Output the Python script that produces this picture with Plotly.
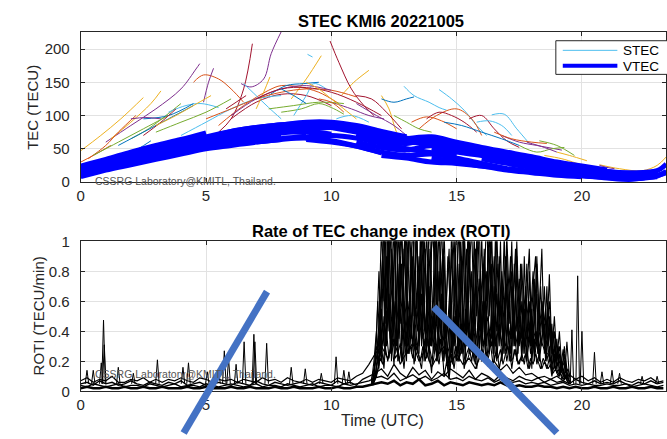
import plotly.graph_objects as go

# ---------------- data ----------------
# STEC arcs (hours UTC, TECU)
STEC_T = [
    [0, 0.8, 1.6, 2.5],
    [1.0, 2.0, 3.0, 4.0, 4.6, 4.75],
    [1.2, 2.0, 2.8, 3.2],
    [0.3, 1.0, 1.5, 2.2],
    [2.0, 2.7, 3.4, 4.0],
    [3.5, 4.2, 4.8, 5.5],
    [4.5, 4.9, 5.5, 6.0, 6.5],
    [4.9, 5.1, 5.3],
    [5.5, 6.0, 6.5, 6.85],
    [6.4, 6.8, 7.3, 7.6, 8.0],
    [5.5, 6.5, 7.5, 8.0, 8.7, 9.5, 10.3],
    [6.0, 7.0, 8.0, 9.0, 10.0],
    [6.5, 7.0, 7.5, 8.0],
    [7.0, 7.3, 7.55],
    [8.0, 8.8, 9.5, 10.0, 10.5],
    [8.4, 9.0, 9.6],
    [9.05, 9.25],
    [7.5, 8.2, 8.9, 9.5],
    [8.5, 9.0, 9.3, 9.8],
    [9.95, 10.3, 10.8, 11.3, 11.7],
    [10.4, 10.9, 11.5],
    [10.0, 10.8, 11.5, 12.1],
    [12.0, 12.3, 12.6, 12.9],
    [12.9, 13.3, 13.9, 14.3, 14.6],
    [14.3, 14.8, 15.3, 15.8, 16.2],
    [16.4, 16.9, 17.4, 17.9],
    [13.5, 14.2, 15.0, 15.6, 16.0],
    [15.5, 16.0, 16.5, 17.0, 17.5],
    [16.8, 17.5, 18.2, 19.2],
    [17.5, 18.2, 18.8, 19.3],
    [18.5, 19.2, 19.8],
    [20.7, 21.5, 22.4, 23.0, 23.37],
    [20.7, 21.0, 21.3],
    [0.0, 0.5, 1.2],
    [2.5, 3.5, 4.5],
    [3.0, 4.0, 5.0, 6.0],
    [2.0, 2.6, 3.2],
    [11.0, 11.6, 12.2, 12.8],
    [12.0, 12.5, 13.0, 13.3],
    [10.2, 10.8, 11.5],
    [17.8, 18.5, 19.0],
    [13.2, 13.8, 14.4, 15.0],
    [0.5, 1.5, 2.5, 3.5],
    [1.5, 2.5, 3.5, 4.5],
    [2.5, 3.2, 3.8],
    [3.0, 3.8, 4.5, 5.2],
    [4.0, 5.0, 6.0, 7.0, 8.0],
    [5.0, 6.0, 7.0, 8.0, 9.0, 10.0, 11.0],
    [6.0, 7.0, 8.0, 9.0, 10.0],
    [7.0, 8.0, 9.0, 10.0, 11.0, 12.0],
    [7.5, 8.5, 9.5, 10.5],
    [8.0, 8.5, 9.0],
    [9.0, 9.5, 10.0, 10.5, 11.0],
    [9.5, 10.0, 10.5],
    [11.0, 11.8, 12.5, 13.0],
    [12.5, 13.0, 13.5, 14.0],
    [13.8, 14.3, 14.8, 15.3, 15.8],
    [14.5, 15.2, 16.0, 16.8, 17.5],
    [15.8, 16.3, 16.8, 17.2],
    [16.5, 17.2, 18.0, 18.6],
    [18.3, 19.0, 19.7],
    [19.0, 19.5, 20.2],
    [5.8, 6.2, 6.6],
    [1.8, 2.3, 2.8],
]
STEC_V = [
    [47, 70, 95, 127],
    [60, 85, 110, 140, 170, 178],
    [65, 90, 118, 137],
    [35, 55, 75, 100],
    [65, 80, 100, 118],
    [105, 115, 118, 112],
    [150, 161, 155, 140, 120],
    [120, 150, 171],
    [75, 95, 140, 208],
    [148, 143, 155, 193, 226],
    [85, 115, 138, 145, 143, 135, 118],
    [95, 120, 132, 130, 115],
    [148, 130, 112, 95],
    [110, 135, 158],
    [105, 110, 118, 112, 102],
    [125, 155, 190],
    [192, 188],
    [130, 145, 148, 150],
    [100, 130, 148, 140],
    [212, 180, 140, 115, 100],
    [130, 150, 168],
    [120, 110, 100, 95],
    [130, 110, 75, 55],
    [144, 130, 120, 112, 108],
    [139, 125, 108, 85, 70],
    [101, 102, 80, 58],
    [80, 100, 110, 95, 70],
    [95, 100, 80, 62, 52],
    [70, 60, 55, 48],
    [55, 45, 50, 52],
    [40, 35, 28],
    [26, 20, 17, 25, 38],
    [25, 22, 20],
    [30, 40, 55],
    [95, 100, 118],
    [75, 90, 105, 125],
    [95, 97, 95],
    [130, 125, 105, 80],
    [125, 120, 125, 128],
    [95, 100, 90],
    [60, 52, 45],
    [90, 98, 92, 80],
    [40, 60, 80, 100],
    [55, 75, 95, 115],
    [70, 90, 110],
    [85, 100, 115, 130],
    [70, 90, 110, 125, 130],
    [95, 110, 125, 135, 140, 138, 128],
    [100, 125, 140, 145, 138],
    [125, 140, 142, 135, 120, 100],
    [110, 115, 120, 118],
    [140, 130, 118],
    [150, 140, 125, 110, 95],
    [125, 120, 105],
    [118, 100, 85, 70],
    [100, 90, 80, 75],
    [95, 105, 100, 90, 75],
    [90, 85, 75, 65, 55],
    [90, 92, 85, 70],
    [75, 65, 60, 58],
    [62, 55, 40],
    [45, 40, 32],
    [110, 120, 130],
    [40, 50, 62],
]
STEC_COLOR_IDX = [2, 3, 2, 1, 4, 5, 1, 3, 6, 3, 1, 6, 5, 2, 4, 2, 5, 0, 5, 6,
                  2, 3, 2, 5, 5, 5, 1, 6, 3, 4, 2, 2, 3, 1, 0, 4, 3, 6, 0, 5, 3, 1,
                  4, 0, 6, 2, 5, 1, 3, 6, 4, 0, 2, 1, 3, 4, 6, 0, 5, 1, 4, 2, 6, 0]

# VTEC arcs (hours UTC, TECU)
VTEC_T = [
    [0, 1, 2, 3, 4, 5, 6, 7, 8],
    [0, 1, 2, 3, 4, 5, 6, 7, 8],
    [0, 1, 2, 3, 4, 5, 6, 7, 8, 9],
    [0, 1, 2, 3, 4, 5, 6],
    [0, 1, 2, 3, 4, 5],
    [3, 4, 5, 6, 7, 8, 9, 10, 11],
    [4, 5, 6, 7, 8, 9, 10, 11, 12],
    [5, 6, 7, 8, 9, 10, 11, 12, 13],
    [6, 7, 8, 9, 10, 11, 12, 13, 14],
    [8, 9, 10, 11, 12, 13, 14, 15],
    [9, 10, 11, 12, 13, 14, 15, 16, 17],
    [10, 11, 12, 13, 14, 15, 16, 17, 18],
    [11, 12, 13, 14, 15, 16, 17, 18, 19],
    [12, 13, 14, 15, 16, 17, 18, 19, 20],
    [13, 14, 15, 16, 17, 18, 19, 20, 21],
    [14, 15, 16, 17, 18, 19, 20, 21, 22],
    [16, 17, 18, 19, 20, 21, 22, 23],
    [17, 18, 19, 20, 21, 22, 23],
    [18, 19, 20, 21, 22, 23],
    [19, 20, 21, 22, 23, 23.37],
    [15, 16, 17, 18, 19, 20, 21],
    [7, 8, 9, 10, 11, 12],
    [1, 2, 3, 4, 5, 6, 7, 8],
    [20, 21, 22, 23, 23.37],
    [2, 3, 4, 5, 6, 7, 8, 9, 10],
    [9, 10, 11, 12, 13, 14, 15, 16],
    [11, 12, 13, 14, 15, 16, 17, 18, 19, 20],
    [14, 15, 16, 17, 18, 19, 20, 21, 22, 23, 23.37],
    [0, 1, 2, 3, 4],
    [4, 5, 6, 7, 8, 9, 10, 11],
]
VTEC_V = [
    [8, 18, 26, 34, 42, 50, 55, 60, 64],
    [12, 22, 31, 39, 47, 55, 60, 66, 70],
    [16, 26, 36, 44, 52, 60, 66, 72, 76, 74],
    [20, 30, 40, 50, 58, 66, 72],
    [24, 34, 45, 55, 64, 74],
    [45, 55, 64, 72, 78, 84, 88, 84, 78],
    [50, 62, 70, 76, 82, 86, 86, 80, 70],
    [65, 76, 82, 86, 90, 90, 85, 76, 68],
    [70, 75, 78, 80, 82, 80, 74, 66, 64],
    [66, 68, 70, 66, 58, 50, 44, 40],
    [64, 60, 54, 45, 40, 42, 36, 28, 20],
    [82, 75, 68, 62, 62, 56, 48, 40, 32],
    [60, 52, 48, 55, 50, 44, 38, 30, 24],
    [40, 36, 30, 28, 24, 18, 14, 10, 8],
    [65, 68, 60, 52, 45, 38, 30, 24, 18],
    [50, 45, 40, 34, 28, 22, 16, 12, 10],
    [35, 28, 22, 18, 12, 8, 6, 8],
    [42, 36, 28, 22, 16, 12, 16],
    [20, 14, 10, 6, 4, 10],
    [28, 22, 16, 14, 17, 27],
    [58, 50, 42, 34, 26, 20, 15],
    [60, 64, 66, 62, 54, 44],
    [30, 38, 45, 52, 58, 64, 70, 80],
    [10, 7, 5, 9, 16],
    [28, 38, 48, 58, 64, 70, 74, 76, 72],
    [88, 84, 76, 66, 60, 58, 52, 46],
    [72, 62, 58, 66, 58, 50, 42, 34, 26, 20],
    [36, 30, 24, 20, 16, 12, 9, 7, 6, 10, 14],
    [14, 24, 34, 42, 50],
    [58, 68, 76, 82, 86, 88, 84, 76],
]

# ROTI background series, one value every 0.25 h from 0 UTC
ROTI_BASE_STEP = 0.25
ROTI_B1 = [0.02, 0.03, 0.02, 0.02, 0.03, 0.02, 0.02, 0.03, 0.02, 0.02, 0.03, 0.02,
           0.02, 0.03, 0.02, 0.02, 0.02, 0.03, 0.02, 0.02, 0.03, 0.02, 0.02, 0.02,
           0.03, 0.02, 0.02, 0.03, 0.02, 0.02, 0.02, 0.03, 0.02, 0.02, 0.03, 0.02,
           0.02, 0.02, 0.03, 0.02, 0.02, 0.03, 0.02, 0.02, 0.03, 0.03, 0.04, 0.05,
           0.06, 0.05, 0.07, 0.04, 0.06, 0.05, 0.08, 0.04, 0.05, 0.07, 0.04, 0.06,
           0.05, 0.04, 0.06, 0.05, 0.04, 0.05, 0.04, 0.06, 0.04, 0.03, 0.04, 0.03,
           0.03, 0.04, 0.03, 0.03, 0.02, 0.03, 0.02, 0.03, 0.02, 0.02, 0.03, 0.02,
           0.02, 0.03, 0.02, 0.02, 0.03, 0.02, 0.02, 0.03, 0.02, 0.02]
ROTI_B2 = [0.05, 0.06, 0.04, 0.07, 0.05, 0.06, 0.04, 0.05, 0.07, 0.05, 0.04, 0.06,
           0.05, 0.04, 0.06, 0.05, 0.07, 0.04, 0.05, 0.06, 0.04, 0.05, 0.06, 0.05,
           0.04, 0.06, 0.05, 0.04, 0.07, 0.05, 0.04, 0.06, 0.05, 0.04, 0.05, 0.06,
           0.05, 0.04, 0.06, 0.05, 0.04, 0.07, 0.05, 0.06, 0.04, 0.08, 0.10, 0.12,
           0.15, 0.10, 0.18, 0.12, 0.09, 0.16, 0.11, 0.14, 0.08, 0.13, 0.10, 0.15,
           0.12, 0.09, 0.14, 0.08, 0.12, 0.10, 0.07, 0.11, 0.09, 0.07, 0.10, 0.08,
           0.07, 0.09, 0.06, 0.08, 0.06, 0.07, 0.05, 0.08, 0.06, 0.05, 0.07, 0.05,
           0.06, 0.05, 0.07, 0.05, 0.04, 0.06, 0.05, 0.07, 0.05, 0.06]
ROTI_B3 = [0.07, 0.09, 0.06, 0.08, 0.07, 0.10, 0.06, 0.06, 0.08, 0.07, 0.09, 0.06,
           0.08, 0.06, 0.08, 0.07, 0.09, 0.07, 0.06, 0.09, 0.08, 0.06, 0.08, 0.07,
           0.08, 0.06, 0.08, 0.07, 0.06, 0.09, 0.07, 0.08, 0.06, 0.09, 0.07, 0.06,
           0.08, 0.06, 0.08, 0.07, 0.06, 0.09, 0.08, 0.07, 0.10, 0.12, 0.18, 0.25,
           0.30, 0.22, 0.35, 0.18, 0.26, 0.32, 0.20, 0.28, 0.16, 0.24, 0.30, 0.19,
           0.25, 0.18, 0.22, 0.15, 0.26, 0.17, 0.20, 0.14, 0.18, 0.12, 0.16, 0.11,
           0.12, 0.09, 0.10, 0.08, 0.10, 0.07, 0.11, 0.08, 0.10, 0.07, 0.09, 0.06,
           0.08, 0.06, 0.09, 0.07, 0.06, 0.08, 0.07, 0.09, 0.06, 0.07]
ROTI_B4 = [0.04, 0.03, 0.05, 0.04, 0.03, 0.04, 0.05, 0.03, 0.04, 0.04, 0.03, 0.05,
           0.04, 0.03, 0.04, 0.05, 0.03, 0.04, 0.04, 0.03, 0.05, 0.04, 0.03, 0.04,
           0.05, 0.04, 0.03, 0.04, 0.05, 0.03, 0.04, 0.04, 0.03, 0.05, 0.04, 0.03,
           0.04, 0.05, 0.03, 0.04, 0.04, 0.03, 0.05, 0.04, 0.05, 0.06, 0.07, 0.09,
           0.10, 0.08, 0.12, 0.07, 0.09, 0.11, 0.08, 0.10, 0.07, 0.09, 0.12, 0.08,
           0.09, 0.07, 0.10, 0.08, 0.07, 0.09, 0.06, 0.08, 0.07, 0.06, 0.07, 0.05,
           0.06, 0.05, 0.06, 0.04, 0.05, 0.06, 0.04, 0.05, 0.04, 0.05, 0.04, 0.04,
           0.05, 0.04, 0.04, 0.05, 0.03, 0.04, 0.05, 0.04, 0.03, 0.04]

# ROTI disturbed-period series, one value every 0.1 h
ROTI_STORM_STEP = 0.1
ROTI_STORM_START_A = 11.6
ROTI_STORM_START_B = 11.65
ROTI_S1 = [0.08, 0.15, 0.22, 0.45, 1.10, 0.60, 1.20, 0.40, 0.95, 0.30,
           1.15, 0.50, 0.85, 0.25, 1.10, 0.70, 0.35, 1.20, 0.55, 0.90,
           0.30, 1.05, 0.65, 0.20, 0.95, 1.15, 0.45, 0.80, 0.30, 1.10,
           0.35, 0.15, 0.60, 1.05, 0.40, 0.85, 0.25, 1.10, 0.55, 0.90,
           0.30, 1.05, 0.50, 0.75, 0.20, 0.95, 0.60, 1.10, 0.35, 0.70,
           0.25, 0.90, 0.45, 1.05, 0.30, 0.65, 0.20, 0.85, 0.40, 0.55,
           0.20, 0.90, 0.35, 0.60, 0.15, 0.75, 0.30, 0.55, 0.95, 0.25,
           0.70, 0.20, 0.45, 0.15, 0.35, 0.10, 0.20, 0.08, 0.33, 0.10]
ROTI_S2 = [0.05, 0.10, 0.30, 0.25, 0.70, 1.15, 0.35, 0.80, 1.10, 0.45,
           0.60, 1.10, 0.30, 0.95, 0.55, 1.20, 0.40, 0.75, 1.05, 0.25,
           0.85, 0.40, 1.10, 0.55, 0.30, 0.70, 1.00, 0.25, 0.60, 0.90,
           0.20, 0.45, 0.95, 0.30, 0.70, 1.10, 0.35, 0.60, 0.95, 0.25,
           0.80, 0.40, 1.00, 0.25, 0.65, 0.90, 0.30, 0.55, 1.05, 0.40,
           0.65, 0.30, 0.80, 0.55, 0.95, 0.20, 0.70, 0.45, 0.90, 0.30,
           0.60, 0.25, 0.85, 0.40, 0.55, 0.20, 0.90, 0.45, 0.30, 0.70,
           0.35, 0.78, 0.25, 0.40, 0.15, 0.25, 0.12, 0.30, 0.10, 0.06]
ROTI_S3 = [0.06, 0.20, 0.40, 0.15, 0.55, 0.30, 0.90, 0.50, 0.65, 1.10,
           0.35, 0.75, 1.15, 0.45, 0.60, 0.25, 0.95, 0.50, 1.10, 0.40,
           0.65, 0.20, 0.50, 0.95, 0.40, 0.25, 0.60, 1.10, 0.45, 0.20,
           0.65, 0.95, 0.25, 0.50, 0.20, 0.55, 0.90, 0.30, 0.45, 1.05,
           0.45, 0.20, 0.70, 0.45, 1.05, 0.35, 0.80, 0.25, 0.60, 0.90,
           0.40, 0.60, 0.20, 0.35, 0.70, 0.45, 1.00, 0.30, 0.55, 0.75,
           0.35, 0.55, 0.20, 0.80, 0.30, 0.45, 0.65, 0.20, 0.50, 0.35,
           0.25, 0.50, 0.15, 0.30, 0.20, 0.40, 0.15, 0.25, 0.08, 0.12]
ROTI_S4 = [0.04, 0.08, 0.12, 0.35, 0.20, 0.50, 0.30, 0.65, 0.25, 0.55,
           0.30, 0.45, 0.20, 0.60, 0.35, 0.50, 0.25, 0.40, 0.65, 0.30,
           0.50, 0.25, 0.40, 0.70, 0.30, 0.55, 0.20, 0.45, 0.65, 0.35,
           0.25, 0.10, 0.40, 0.30, 0.55, 0.20, 0.45, 0.35, 0.60, 0.25,
           0.35, 0.55, 0.25, 0.45, 0.30, 0.60, 0.20, 0.40, 0.30, 0.50,
           0.20, 0.45, 0.30, 0.60, 0.25, 0.40, 0.35, 0.50, 0.20, 0.40,
           0.30, 0.45, 0.20, 0.35, 0.50, 0.25, 0.40, 0.20, 0.35, 0.45,
           0.20, 0.30, 0.12, 0.25, 0.15, 0.10, 0.20, 0.08, 0.12, 0.06]
ROTI_S5 = [0.05, 0.06, 0.10, 0.18, 0.30, 0.15, 0.40, 0.22, 0.35, 0.18,
           0.40, 0.20, 0.30, 0.15, 0.35, 0.25, 0.45, 0.18, 0.30, 0.22,
           0.15, 0.35, 0.22, 0.30, 0.12, 0.40, 0.25, 0.18, 0.35, 0.10,
           0.20, 0.08, 0.25, 0.15, 0.30, 0.20, 0.35, 0.15, 0.25, 0.30,
           0.20, 0.32, 0.15, 0.28, 0.20, 0.35, 0.18, 0.25, 0.40, 0.20,
           0.30, 0.15, 0.25, 0.35, 0.20, 0.30, 0.15, 0.28, 0.22, 0.18,
           0.25, 0.18, 0.30, 0.15, 0.22, 0.35, 0.18, 0.25, 0.15, 0.20,
           0.15, 0.22, 0.10, 0.18, 0.12, 0.15, 0.08, 0.12, 0.07, 0.05]
ROTI_S6 = [0.05, 0.12, 0.35, 0.80, 0.25, 1.20, 0.55, 1.10, 0.20, 0.85,
           1.20, 0.35, 1.10, 0.60, 0.20, 1.15, 0.80, 0.30, 1.20, 0.45,
           1.10, 0.55, 0.25, 1.20, 0.70, 0.35, 1.05, 0.60, 1.15, 0.40,
           0.20, 0.30, 1.10, 0.60, 1.20, 0.25, 0.75, 1.15, 0.30, 0.80,
           1.10, 0.45, 0.85, 1.15, 0.35, 0.70, 1.20, 0.50, 0.85, 0.25,
           1.10, 0.50, 0.75, 0.25, 1.05, 0.60, 0.80, 0.35, 1.00, 0.45,
           0.85, 0.40, 0.65, 0.95, 0.30, 0.50, 0.85, 0.40, 0.60, 0.30,
           0.45, 0.60, 0.25, 0.50, 0.20, 0.30, 0.15, 0.20, 0.10, 0.08]
ROTI_S7 = [0.05, 0.18, 0.60, 0.30, 0.95, 0.45, 1.15, 0.25, 0.70, 1.05,
           0.20, 0.90, 0.55, 1.20, 0.30, 0.80, 1.10, 0.45, 0.25, 1.05,
           0.50, 0.95, 0.30, 0.75, 1.20, 0.40, 0.20, 0.90, 0.65, 0.35,
           0.90, 0.55, 0.20, 0.80, 0.35, 1.00, 0.50, 0.20, 1.10, 0.60,
           0.25, 0.85, 1.10, 0.40, 0.60, 0.25, 0.95, 0.70, 0.30, 1.05,
           0.45, 1.00, 0.25, 0.70, 0.50, 0.90, 0.30, 0.65, 0.25, 0.85,
           0.45, 0.70, 0.30, 0.50, 0.80, 0.35, 0.25, 0.70, 0.40, 0.55,
           0.30, 0.45, 0.20, 0.35, 0.25, 0.15, 0.28, 0.12, 0.15, 0.06]
ROTI_S8 = [0.04, 0.10, 0.25, 0.55, 0.90, 0.30, 0.75, 1.15, 0.50, 0.25,
           0.85, 0.45, 0.70, 1.10, 0.35, 0.60, 0.90, 0.20, 0.80, 0.55,
           1.15, 0.30, 0.85, 0.40, 0.60, 1.10, 0.30, 0.55, 0.95, 0.25,
           0.45, 0.75, 0.35, 0.95, 0.25, 0.65, 1.15, 0.40, 0.70, 0.30,
           0.60, 0.95, 0.30, 0.55, 0.85, 0.40, 0.65, 1.00, 0.25, 0.55,
           0.85, 0.35, 0.60, 0.90, 0.40, 0.25, 0.60, 0.95, 0.35, 0.50,
           0.25, 0.65, 0.50, 0.30, 0.70, 0.90, 0.30, 0.45, 0.60, 0.20,
           0.55, 0.30, 0.40, 0.20, 0.30, 0.18, 0.10, 0.22, 0.08, 0.05]
ROTI_S9 = [0.06, 0.12, 0.20, 0.28, 0.45, 0.25, 0.55, 0.35, 0.45, 0.60,
           0.35, 0.55, 0.40, 0.30, 0.60, 0.45, 0.30, 0.55, 0.40, 0.65,
           0.35, 0.45, 0.60, 0.30, 0.50, 0.35, 0.55, 0.40, 0.30, 0.50,
           0.40, 0.25, 0.35, 0.50, 0.30, 0.45, 0.25, 0.55, 0.40, 0.35,
           0.50, 0.30, 0.45, 0.55, 0.30, 0.40, 0.50, 0.35, 0.45, 0.30,
           0.40, 0.55, 0.35, 0.30, 0.45, 0.35, 0.50, 0.30, 0.40, 0.35,
           0.40, 0.30, 0.45, 0.25, 0.35, 0.40, 0.25, 0.35, 0.30, 0.25,
           0.25, 0.20, 0.28, 0.15, 0.20, 0.12, 0.15, 0.10, 0.08, 0.06]
ROTI_S10 = [0.04, 0.08, 0.14, 0.22, 0.18, 0.30, 0.20, 0.28, 0.35, 0.22,
            0.25, 0.32, 0.20, 0.38, 0.25, 0.30, 0.22, 0.35, 0.28, 0.20,
            0.30, 0.20, 0.35, 0.25, 0.18, 0.30, 0.22, 0.35, 0.20, 0.28,
            0.15, 0.25, 0.18, 0.30, 0.20, 0.25, 0.30, 0.18, 0.22, 0.28,
            0.25, 0.18, 0.30, 0.22, 0.28, 0.20, 0.25, 0.32, 0.18, 0.25,
            0.22, 0.28, 0.18, 0.25, 0.30, 0.20, 0.22, 0.28, 0.18, 0.22,
            0.20, 0.25, 0.15, 0.22, 0.18, 0.25, 0.20, 0.15, 0.22, 0.18,
            0.15, 0.18, 0.12, 0.15, 0.10, 0.12, 0.08, 0.10, 0.06, 0.05]

# isolated ROTI peaks outside the disturbed period
ROTI_PEAK_T = [0.25, 0.5, 0.82, 0.91, 0.94, 1.5, 2.1, 3.06, 4.08, 4.3, 5.05, 5.5,
               5.73, 5.9, 6.2, 6.52, 6.91, 6.95, 7.42, 8.4, 8.96, 9.6, 10.19,
               10.5, 10.7, 19.6, 19.83, 20.0, 20.5, 20.8, 21.2, 21.5, 22.4, 23.0]
ROTI_PEAK_V = [0.14, 0.14, 0.19, 0.475, 0.31, 0.16, 0.12, 0.21, 0.16, 0.19, 0.13,
               0.15, 0.27, 0.22, 0.18, 0.33, 0.38, 0.33, 0.32, 0.16, 0.15, 0.12,
               0.23, 0.14, 0.13, 0.41, 0.77, 0.40, 0.26, 0.13, 0.14, 0.12, 0.10, 0.10]

X_TICKS = [0, 5, 10, 15, 20]
TEC_TICKS = [0, 50, 100, 150, 200]
ROTI_TICKS = [0, 0.2, 0.4, 0.6, 0.8, 1]
ROTI_TICK_TEXT = ["0", "0.2", "0.4", "0.6", "0.8", "1"]

# ---------------- figure ----------------
W, H = 667, 439
MATLAB = ['#0072BD', '#D95319', '#EDB120', '#7E2F8E', '#77AC30', '#4DBEEE', '#A2142F']
FONT = "Liberation Sans, Arial, sans-serif"
AX = '#262626'

fig = go.Figure()

for i, (t, v) in enumerate(zip(STEC_T, STEC_V)):
    fig.add_trace(go.Scatter(x=t, y=v, mode='lines', xaxis='x', yaxis='y',
                             line=dict(color=MATLAB[STEC_COLOR_IDX[i]], width=1, shape='spline'),
                             showlegend=False, hoverinfo='skip'))
for t, v in zip(VTEC_T, VTEC_V):
    fig.add_trace(go.Scatter(x=t, y=v, mode='lines', xaxis='x', yaxis='y',
                             line=dict(color='#0000FF', width=5, shape='spline'),
                             showlegend=False, hoverinfo='skip'))

# ROTI
for s, w in [(ROTI_B1, 2.5), (ROTI_B2, 1.3), (ROTI_B3, 1.2), (ROTI_B4, 1.3)]:
    tt = [i * ROTI_BASE_STEP for i in range(len(s))]
    fig.add_trace(go.Scatter(x=tt, y=s, mode='lines', xaxis='x2', yaxis='y2',
                             line=dict(color='black', width=w),
                             showlegend=False, hoverinfo='skip'))
for start, group in [(ROTI_STORM_START_A, [ROTI_S1, ROTI_S2, ROTI_S3, ROTI_S4, ROTI_S5, ROTI_S6]),
                     (ROTI_STORM_START_B, [ROTI_S7, ROTI_S8, ROTI_S9, ROTI_S10])]:
    for s in group:
        tt = [start + i * ROTI_STORM_STEP for i in range(len(s))]
        fig.add_trace(go.Scatter(x=tt, y=s, mode='lines', xaxis='x2', yaxis='y2',
                                 line=dict(color='black', width=1.1),
                                 showlegend=False, hoverinfo='skip'))
px_, py_ = [], []
for t, v in zip(ROTI_PEAK_T, ROTI_PEAK_V):
    px_ += [t - 0.07, t, t + 0.07, None]
    py_ += [0.05, v, 0.05, None]
fig.add_trace(go.Scatter(x=px_, y=py_, mode='lines', xaxis='x2', yaxis='y2',
                         line=dict(color='black', width=1),
                         showlegend=False, hoverinfo='skip'))

def xp(p):
    return p / W

def yp(p):
    return 1 - p / H

x_dom = [xp(77.3), 1.0]
x_max = (W - 77.3) / 25.25

common_x = dict(range=[0, x_max], domain=x_dom, tickvals=X_TICKS, ticks='inside', ticklen=4,
                tickcolor=AX, showline=True, linecolor=AX, linewidth=1, mirror='ticks',
                showgrid=True, gridcolor='#e2e2e2', zeroline=False,
                tickfont=dict(family=FONT, size=15, color=AX))
common_y = dict(ticks='inside', ticklen=4, tickcolor=AX, showline=True, linecolor=AX,
                linewidth=1, mirror='ticks', showgrid=True, gridcolor='#e2e2e2',
                zeroline=False, tickfont=dict(family=FONT, size=15, color=AX),
                ticklabelstandoff=7)

fig.update_layout(
    width=W, height=H, margin=dict(l=0, r=0, t=0, b=0, pad=0),
    paper_bgcolor='white', plot_bgcolor='white', showlegend=False,
    xaxis=dict(common_x, anchor='y'),
    yaxis=dict(common_y, range=[0, 225.5], domain=[yp(180), yp(24)], anchor='x',
               tickvals=TEC_TICKS),
    xaxis2=dict(common_x, anchor='y2'),
    yaxis2=dict(common_y, range=[0, 1], domain=[yp(397.7), yp(241.7)], anchor='x2',
                tickvals=ROTI_TICKS, ticktext=ROTI_TICK_TEXT),
)

ann = []
def text(x, y, s, size, bold=False, angle=0, color=AX, xanchor='center'):
    ann.append(dict(x=xp(x), y=yp(y), xref='paper', yref='paper', text=(f"<b>{s}</b>" if bold else s),
                    showarrow=False, textangle=angle, xanchor=xanchor, yanchor='middle',
                    font=dict(family=FONT, size=size, color=color)))

text(380, 13, "STEC KMI6 20221005", 16.5, bold=True, color='black')
text(380, 231, "Rate of TEC change index (ROTI)", 16.5, bold=True, color='black')
text(28, 102, "TEC (TECU)", 15, angle=-90)
text(35, 319, "ROTI (TECU/min)", 15, angle=-90)
text(381, 428, "Time (UTC)", 16)
text(90, 178.5, "CSSRG Laboratory@KMITL, Thailand.", 10.5, color='#555555', xanchor='left')
text(90, 379.5, "CSSRG Laboratory@KMITL, Thailand.", 10.5, color='#555555', xanchor='left')
# legend labels
text(622, 43, "STEC", 13.5, color='black', xanchor='left')
text(622, 59.5, "VTEC", 13.5, color='black', xanchor='left')
fig.update_layout(annotations=ann)

shapes = [
    dict(type='rect', xref='paper', yref='paper', x0=xp(556), x1=xp(700), y0=yp(68), y1=yp(33),
         line=dict(color=AX, width=1), fillcolor='white', layer='above'),
    dict(type='line', xref='paper', yref='paper', x0=xp(563), x1=xp(618), y0=yp(43), y1=yp(43),
         line=dict(color=MATLAB[5], width=1), layer='above'),
    dict(type='line', xref='paper', yref='paper', x0=xp(563), x1=xp(618), y0=yp(59), y1=yp(59),
         line=dict(color='#0000FF', width=4), layer='above'),
    dict(type='line', xref='paper', yref='paper', x0=xp(181), y0=yp(441), x1=xp(265), y1=yp(294),
         line=dict(color='#4472C4', width=7), layer='above'),
    dict(type='line', xref='paper', yref='paper', x0=xp(433), y0=yp(310), x1=xp(557), y1=yp(441),
         line=dict(color='#4472C4', width=7), layer='above'),
]
fig.update_layout(shapes=shapes)

fig.write_html("out.html")
